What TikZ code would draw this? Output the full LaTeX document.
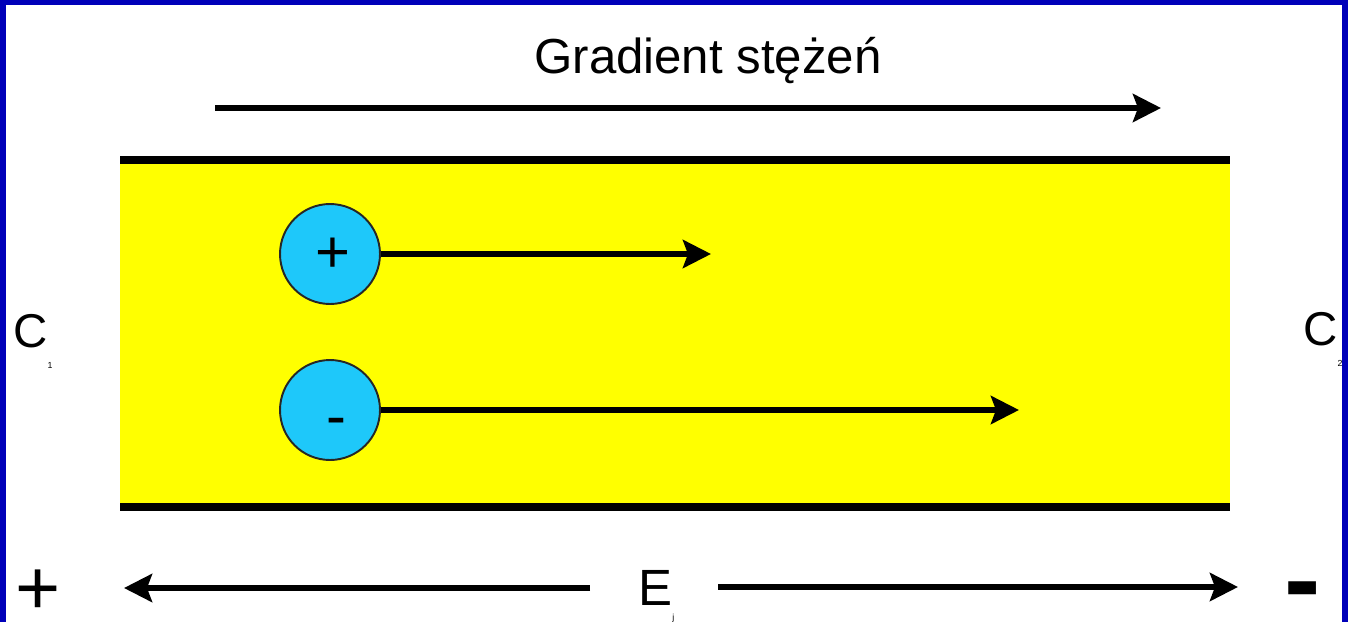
\documentclass[tikz,border=0pt]{standalone}
\usepackage{fontspec}
\setmainfont{Liberation Sans}
\usetikzlibrary{arrows.meta}

\definecolor{frameblue}{RGB}{0,0,185}
\definecolor{ioncyan}{RGB}{30,200,250}
\definecolor{channelyellow}{RGB}{255,255,0}

\tikzset{
  ion/.style={circle,draw=black!85,line width=1.1pt,fill=ioncyan,minimum size=2cm,inner sep=0pt},
  ionsign/.style={inner sep=0pt,font=\fontsize{34}{34}\selectfont},
  flux/.style={line width=3.2pt,-{Stealth[length=0.56cm,width=0.56cm,inset=0.1cm]}},
  wall/.style={line width=4.8pt},
  bigtext/.style={inner sep=0pt,font=\fontsize{27}{27}\selectfont},
}
\newcommand{\lowidx}[1]{\raisebox{-0.45em}{\fontsize{5}{5}\selectfont #1}}

\begin{document}
\begin{tikzpicture}[x=0.02cm,y=-0.02cm]
                \useasboundingbox (0,0) rectangle (1348,622);
                \fill[white] (0,0) rectangle (1348,622);
                \fill[frameblue] (0,0) rectangle (6,622);
                \fill[frameblue] (0,0) rectangle (1348,5);
                \fill[frameblue] (1342,0) rectangle (1348,622);
                \fill[channelyellow] (120,160) rectangle (1230,507);
                \draw[wall] (120,160) -- (1230,160);
                \draw[wall] (120,507) -- (1230,507);
                \node[inner sep=0pt,font=\fontsize{28}{28}\selectfont,anchor=base] (gradlabel) at (708,73) {Gradient stężeń};
                \coordinate (gradstart) at (215,108);
                \coordinate (gradtip) at (1161,108);
                \draw[flux] (gradstart) -- (gradtip);
                \node[ion] (cation) at (330,254) {};
                \node[ionsign] (cationsign) at (333,255) {+};
                \node[ion] (anion) at (330,410) {};
                \node[ionsign] (anionsign) at (336,427) {-};
                \coordinate (cationtip) at (711,254);
                \coordinate (aniontip) at (1019,410);
                \draw[flux] (cation.east) -- (cationtip);
                \draw[flux] (anion.east) -- (aniontip);
                \node[bigtext,anchor=base west] (conc1) at (13,347) {C\lowidx{1}};
                \node[bigtext,anchor=base west] (conc2) at (1303,345) {C\lowidx{2}};
                \node[bigtext,anchor=base west,font=\fontsize{29}{29}\selectfont] (field) at (638,605) {E\raisebox{-0.3em}{\fontsize{5}{5}\selectfont j}};
                \node[inner sep=0pt,font=\fontsize{44}{44}\selectfont] (anode) at (38,592) {+};
                \node[inner sep=0pt,font=\bfseries\fontsize{62}{62}\selectfont] (cathode) at (1303,599) {-};
                \coordinate (fieldleftstart) at (590,588);
                \coordinate (fieldlefttip) at (124,588);
                \coordinate (fieldrightstart) at (718,587);
                \coordinate (fieldrighttip) at (1238,587);
                \draw[flux] (fieldleftstart) -- (fieldlefttip);
                \draw[flux] (fieldrightstart) -- (fieldrighttip);
            \end{tikzpicture}
\end{document}
